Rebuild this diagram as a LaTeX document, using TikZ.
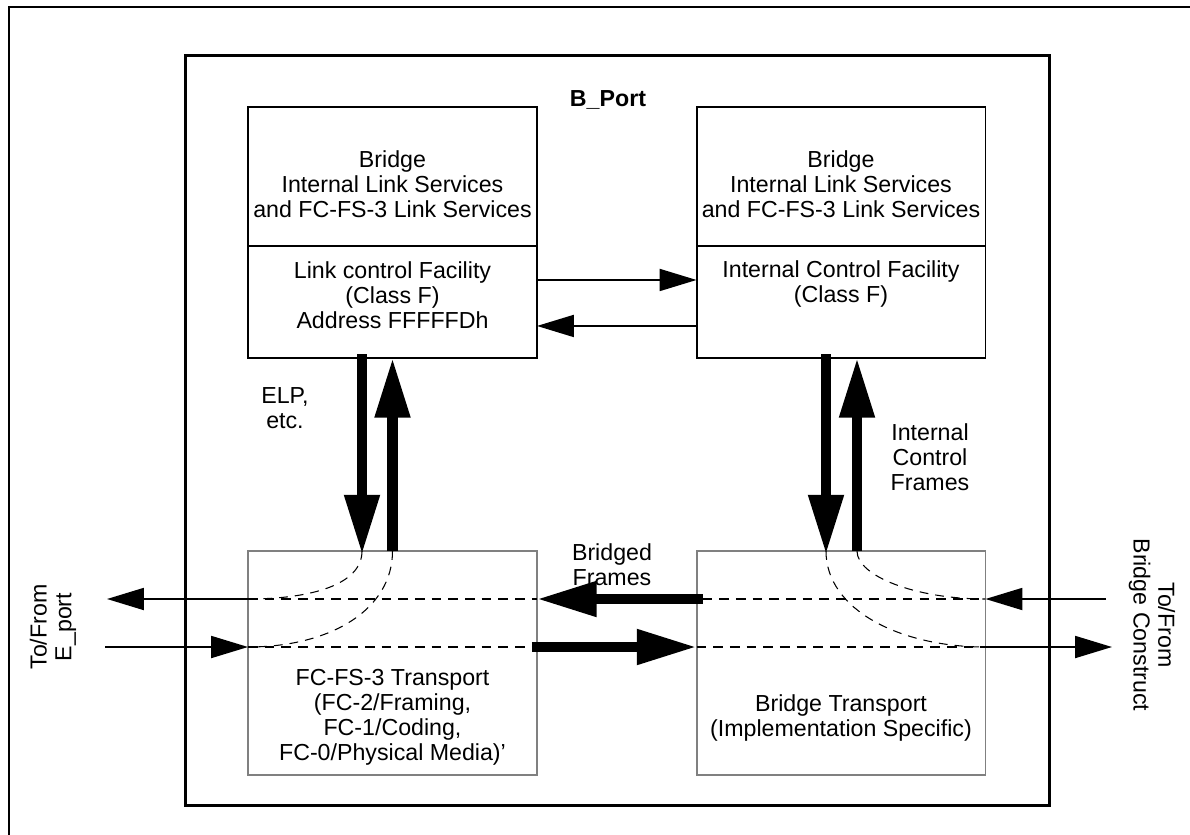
\documentclass[tikz,border=0pt]{standalone}
\usepackage{fontspec}
\setmainfont{Liberation Sans}
\usetikzlibrary{arrows.meta,positioning}

\begin{document}
\begin{tikzpicture}[x=0.02cm,y=-0.02cm,
every node/.style={font=\fontsize{13.2}{14.2}\selectfont,align=center,inner sep=0pt},
box/.style={draw,line width=1.1pt,outer sep=0pt,minimum width=5.78cm},
fcbox/.style={draw=black!50,line width=1.1pt,outer sep=0pt,minimum width=5.78cm,minimum height=4.48cm},
link/.style={line width=1.1pt,-{Triangle[length=21pt,width=12.5pt]}},
fat/.style={line width=5.7pt,-{Triangle[length=34pt,width=19pt]}},
dashy/.style={line width=1.1pt,dash pattern=on 5.5pt off 4pt},
curvy/.style={line width=0.6pt,dash pattern=on 5pt off 4pt}
]
\useasboundingbox (0,0) rectangle (1190,835);
\draw[line width=1.1pt] (9,835) -- (9,7) -- (1190,7);

\node[draw,line width=1.7pt,minimum width=17.3cm,minimum height=15.02cm] (PortBox) at (617.5,430.5) {};
\node[font=\fontsize{13.2}{14.2}\selectfont\bfseries] (PortName) at (608,100) {B\_Port};

\node[box,minimum height=2.78cm] (LinkSvc) at (392.5,176.5) {};
\node[box,minimum height=2.24cm,below=0pt of LinkSvc] (LinkCtl) {};
\node[box,minimum height=2.78cm] (IntSvc) at (841,176.5) {};
\node[box,minimum height=2.24cm,below=0pt of IntSvc] (IntCtl) {};

\node (LinkSvcText) at (392.5,184) {Bridge\\Internal Link Services\\and FC-FS-3 Link Services};
\node (IntSvcText) at (841,184) {Bridge\\Internal Link Services\\and FC-FS-3 Link Services};
\node (LinkCtlText) at (392.5,295) {Link control Facility\\(Class F)\\Address FFFFFDh};
\node (IntCtlText) at (841,284) {Internal Control Facility\\(Class F)};

\node[fcbox] (FcTransport) at (392.5,663) {};
\node[fcbox] (BrTransport) at (841,663) {};
\node (FcText) at (392.5,717) {FC-FS-3 Transport\\(FC-2/Framing,\\FC-1/Coding,\\FC-0/Physical Media)'};
\node (BrText) at (841,718) {Bridge Transport\\(Implementation Specific)};

\node (ElpText) at (285,408) {ELP,\\etc.};
\node (IcfText) at (930,457) {Internal\\Control\\Frames};
\node (BfText) at (612,565) {Bridged\\Frames};
\node[rotate=90] (EportText) at (53,627) {To/From\\E\_port};
\node[rotate=-90] (BcText) at (1152,625) {To/From\\Bridge Construct};

\coordinate (EOut) at (107,599);
\coordinate (EIn) at (105,647);
\coordinate (BIn) at (1106,599);
\coordinate (BOut) at (1112,647);

% between the two facilities
\draw[link] ([yshift=0.44cm]LinkCtl.east) -- ([yshift=0.44cm]IntCtl.west);
\draw[link] ([yshift=-0.48cm]IntCtl.west) -- ([yshift=-0.48cm]LinkCtl.east);

% up and down
\draw[fat,shorten <=-2pt] ([xshift=-0.61cm]LinkCtl.south) -- ([xshift=-0.61cm,yshift=-2pt]FcTransport.north);
\draw[fat] (FcTransport.north) -- (LinkCtl.south);
\draw[fat,shorten <=-2pt] ([xshift=-0.3cm]IntCtl.south) -- ([xshift=-0.3cm,yshift=-2pt]BrTransport.north);
\draw[fat] ([xshift=0.32cm]BrTransport.north) -- ([xshift=0.32cm]IntCtl.south);

% frame paths
\draw[link] (FcTransport.west |- EOut) -- (EOut);
\draw[link] (EIn) -- (FcTransport.west |- EIn);
\draw[dashy] (FcTransport.west |- EOut) -- (FcTransport.east |- EOut);
\draw[dashy] (FcTransport.west |- EIn) -- ([xshift=-0.1cm]FcTransport.east |- EIn);
\draw[fat] ([xshift=0.12cm]BrTransport.west |- EOut) -- (FcTransport.east |- EOut);
\draw[fat] ([xshift=-0.1cm]FcTransport.east |- EIn) -- (BrTransport.west |- EIn);
\draw[dashy] ([xshift=0.12cm]BrTransport.west |- BIn) -- (BrTransport.east |- BIn);
\draw[dashy] (BrTransport.west |- BOut) -- (BrTransport.east |- BOut);
\draw[link] (BIn) -- (BrTransport.east |- BIn);
\draw[link] (BrTransport.east |- BOut) -- (BOut);

\draw[curvy] ([xshift=-0.61cm]FcTransport.north) .. controls +(0,34) and +(62,0) .. (FcTransport.west |- EOut);
\draw[curvy] (FcTransport.north) .. controls +(0,59) and +(82,0) .. (FcTransport.west |- EIn);
\draw[curvy] ([xshift=-0.3cm]BrTransport.north) .. controls +(0,59) and +(-85,0) .. (BrTransport.east |- BOut);
\draw[curvy] ([xshift=0.32cm]BrTransport.north) .. controls +(0,25) and +(-70,0) .. (BrTransport.east |- BIn);
\end{tikzpicture}
\end{document}
